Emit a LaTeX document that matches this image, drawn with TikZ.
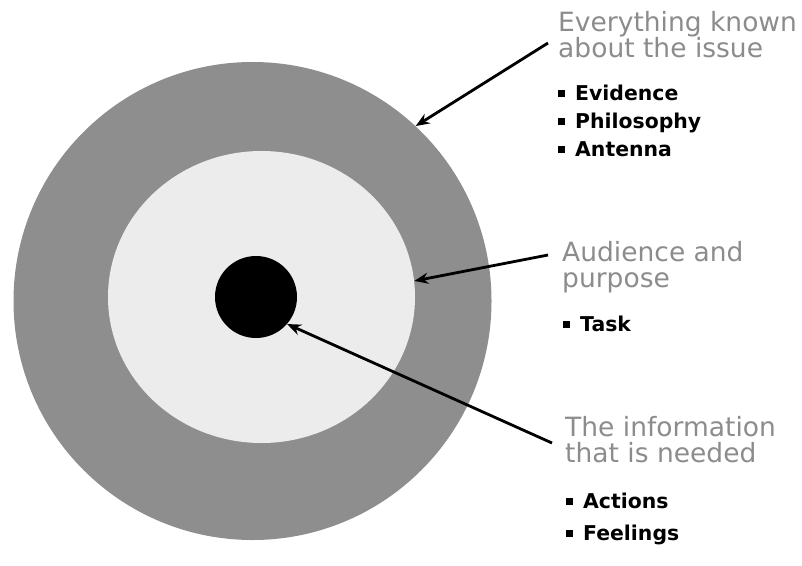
\documentclass[tikz,border=0pt]{standalone}
\usepackage{fontspec}
\setmainfont{DejaVu Sans}
\usetikzlibrary{arrows.meta,shapes.geometric}
\definecolor{RingGray}{RGB}{142,142,142}
\definecolor{PaleGray}{RGB}{236,236,236}
\definecolor{HeadGray}{RGB}{140,140,140}

% square bullet in front of an item
\newcommand{\sqitem}[1]{\raisebox{3.5pt}{\rule{7pt}{7pt}}\hspace{10pt}#1}

\begin{document}
\begin{tikzpicture}[
x=1pt,y=-1pt,
disc/.style={circle,inner sep=0pt,draw=none},
heading/.style={anchor=base west,inner sep=0pt,align=left,text=HeadGray,
font=\fontsize{26.5}{26}\selectfont},
points/.style={anchor=base west,inner sep=0pt,align=left,
font=\bfseries\fontsize{20.4}{28}\selectfont},
arrow/.style={-{Stealth[length=14pt,width=11pt]},line width=2.8pt}
]
\useasboundingbox (0,0) rectangle (802,565);
% target rings
\node[disc,fill=RingGray,minimum size=478pt] (outer) at (252.5,301) {};
\node[ellipse,inner sep=0pt,fill=PaleGray,minimum width=307pt,minimum height=292pt] (middle) at (261.5,297) {};
\node[disc,fill=black,minimum size=82pt] (core) at (256,297) {};

% labels (base = last line)
\node[heading] (known) at (558,57) {Everything known\\about the issue};
\node[points] (knownpts) at (558,156) {\sqitem{Evidence}\\\sqitem{Philosophy}\\\sqitem{Antenna}};
\node[heading] (aud) at (562,287) {Audience and\\purpose};
\node[points] (audpts) at (563,331) {\sqitem{Task}};
\node[heading] (info) at (565,462) {The information\\that is needed};
\node[points,font=\bfseries\fontsize{20.4}{32}\selectfont] (infopts) at (566,540) {\sqitem{Actions}\\\sqitem{Feelings}};

% pointers
\coordinate (known-end) at (548,43);
\coordinate (aud-end) at (548,255);
\coordinate (info-end) at (552,443);
\draw[arrow] (known-end) -- (outer.47);
\draw[arrow] (aud-end) -- (middle.6);
\draw[arrow] (info-end) -- (core.-41);
\end{tikzpicture}
\end{document}
